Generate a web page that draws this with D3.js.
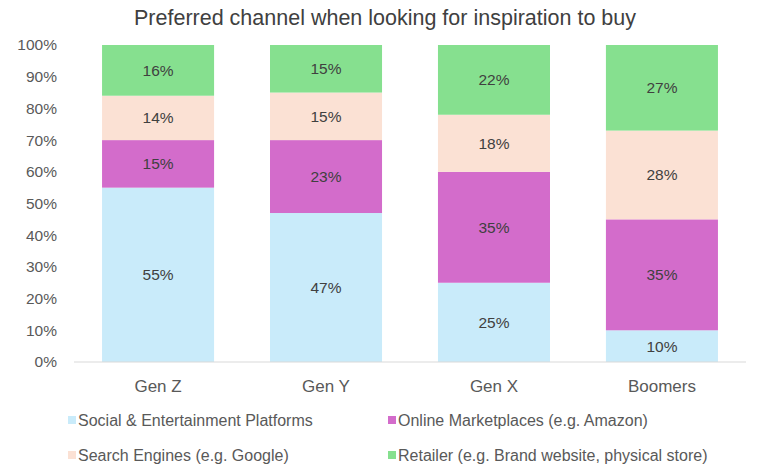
<!DOCTYPE html>
<html>
<head>
<meta charset="utf-8">
<script src="https://cdn.jsdelivr.net/npm/d3@7"></script>
<style>
  body { margin: 0; background: #fff; }
  text { font-family: "Liberation Sans", Arial, sans-serif; }
</style>
</head>
<body>
<div id="chart"></div>
<script>
// Data
const generations = ["Gen Z", "Gen Y", "Gen X", "Boomers"];
const channels = [
    "Social & Entertainment Platforms",
    "Online Marketplaces (e.g. Amazon)",
    "Search Engines (e.g. Google)",
    "Retailer (e.g. Brand website, physical store)"
];
const social = [55, 47, 25, 10];
const marketplaces = [15, 23, 35, 35];
const search = [14, 15, 18, 28];
const retailer = [16, 15, 22, 27];
const yTicks = [0, 10, 20, 30, 40, 50, 60, 70, 80, 90, 100];

const colors = ["#c9ebfa", "#d36ccb", "#fbe1d4", "#86e08f"];
const series = [social, marketplaces, search, retailer];

const width = 768;
const height = 474;
const margin = { top: 45, right: 22, bottom: 112, left: 74 };

const svg = d3.select("#chart")
    .append("svg")
    .attr("width", width)
    .attr("height", height);

// Title
svg.append("text")
    .attr("x", 385)
    .attr("y", 25)
    .attr("text-anchor", "middle")
    .attr("font-size", 21.5)
    .attr("fill", "#404040")
    .text("Preferred channel when looking for inspiration to buy");

// Scales
const x = d3.scaleBand()
    .domain(generations)
    .range([margin.left, width - margin.right])
    .paddingInner(0.333)
    .paddingOuter(0.167);

const y = d3.scaleLinear()
    .domain([0, 100])
    .range([height - margin.bottom, margin.top]);

// Stack the series
const rows = generations.map((g, i) => {
    const row = { gen: g };
    channels.forEach((c, j) => { row[c] = series[j][i]; });
    return row;
});
const stacked = d3.stack().keys(channels)(rows);

// Y axis labels
svg.append("g")
    .selectAll("text")
    .data(yTicks)
    .enter().append("text")
    .attr("x", 57)
    .attr("y", d => y(d))
    .attr("dy", "0.35em")
    .attr("text-anchor", "end")
    .attr("font-size", 15.5)
    .attr("fill", "#595959")
    .text(d => d + "%");

// Bars
const layers = svg.append("g")
    .selectAll("g")
    .data(stacked)
    .enter().append("g")
    .attr("fill", (d, i) => colors[i]);

layers.selectAll("rect")
    .data(d => d)
    .enter().append("rect")
    .attr("x", d => x(d.data.gen))
    .attr("y", d => y(d[1]))
    .attr("width", x.bandwidth())
    .attr("height", d => y(d[0]) - y(d[1]));

// Segment labels
layers.selectAll("text")
    .data(d => d)
    .enter().append("text")
    .attr("x", d => x(d.data.gen) + x.bandwidth() / 2)
    .attr("y", d => (y(d[0]) + y(d[1])) / 2)
    .attr("dy", "0.35em")
    .attr("text-anchor", "middle")
    .attr("font-size", 15.5)
    .attr("fill", "#404040")
    .text(d => (d[1] - d[0]) + "%");

// Baseline
svg.append("line")
    .attr("x1", margin.left)
    .attr("x2", width - margin.right)
    .attr("y1", y(0))
    .attr("y2", y(0))
    .attr("stroke", "#d9d9d9")
    .attr("stroke-width", 1);

// Category labels
svg.append("g")
    .selectAll("text")
    .data(generations)
    .enter().append("text")
    .attr("x", d => x(d) + x.bandwidth() / 2)
    .attr("y", 386)
    .attr("dy", "0.35em")
    .attr("text-anchor", "middle")
    .attr("font-size", 17)
    .attr("fill", "#595959")
    .text(d => d);

// Legend: two columns, two rows
const legendPos = [[68, 420], [388, 420], [68, 455], [388, 455]];
const legend = svg.append("g")
    .selectAll("g")
    .data(channels)
    .enter().append("g")
    .attr("transform", (d, i) => `translate(${legendPos[i][0]},${legendPos[i][1]})`);

legend.append("rect")
    .attr("x", 0)
    .attr("y", -4)
    .attr("width", 8)
    .attr("height", 8)
    .attr("fill", (d, i) => colors[i]);

legend.append("text")
    .attr("x", 10)
    .attr("y", 0)
    .attr("dy", "0.35em")
    .attr("font-size", 16)
    .attr("fill", "#595959")
    .text(d => d);
</script>
</body>
</html>
